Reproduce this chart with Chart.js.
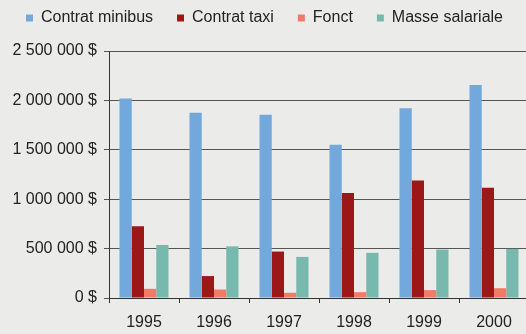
<!DOCTYPE html>
<html>
<head>
<meta charset="utf-8">
<script src="https://cdn.jsdelivr.net/npm/chart.js@4/dist/chart.umd.min.js"></script>
<style>
  html, body { margin: 0; padding: 0; background: #ebebe9; overflow: hidden; }
  #wrap { width: 540px; height: 334px; }
</style>
</head>
<body>
<div id="wrap"><canvas id="chart" width="540" height="334"></canvas></div>
<script>
// Coûts annuels par poste (dollars)
const years   = ['1995', '1996', '1997', '1998', '1999', '2000'];
const minibus = [2020000, 1875000, 1855000, 1550000, 1920000, 2155000];
const taxi    = [725000, 222000, 470000, 1063000, 1190000, 1115000];
const fonct   = [93000, 86000, 53000, 59000, 80000, 99000];
const masse   = [537000, 523000, 416000, 457000, 490000, 497000];
const yTicks  = [0, 500000, 1000000, 1500000, 2000000, 2500000];

const FONT = { family: 'Liberation Sans, Arial, sans-serif', size: 16 };

// espace comme séparateur de milliers
const fmt = v => String(v).replace(/\B(?=(\d{3})+(?!\d))/g, ' ') + ' $';

// hauteur fixe de la légende (le texte reste placé par Chart.js)
const legendHeight = {
  id: 'legendHeight',
  beforeLayout(chart) {
    const lg = chart.legend;
    if (!lg || lg._patched) return;
    const fit = lg.fit;
    lg.fit = function () { fit.call(this); this.height = 65; };
    lg._patched = true;
  }
};

new Chart(document.getElementById('chart'), {
  type: 'bar',
  data: {
    labels: years,
    datasets: [
      { label: 'Contrat minibus', data: minibus, backgroundColor: '#72a8dc' },
      { label: 'Contrat taxi',    data: taxi,    backgroundColor: '#9c1717' },
      { label: 'Fonct',           data: fonct,   backgroundColor: '#f27a68' },
      { label: 'Masse salariale', data: masse,   backgroundColor: '#78b9ae' },
    ],
  },
  options: {
    responsive: false,
    animation: false,
    layout: { padding: { top: -14, right: 11, bottom: 0, left: 0 } },
    datasets: { bar: { categoryPercentage: 0.7, barPercentage: 1.0 } },
    plugins: {
      legend: {
        position: 'top',
        labels: { color: '#222', font: FONT, boxWidth: 7, boxHeight: 7, padding: 24 },
      },
      tooltip: { enabled: false },
    },
    scales: {
      x: {
        grid: { display: true, drawOnChartArea: false, offset: true, tickLength: 5, color: '#333' },
        border: { color: '#333', width: 1 },
        ticks: { color: '#222', font: FONT, padding: 10, maxRotation: 0 },
        afterFit: s => { s.height = 36; },
      },
      y: {
        min: 0,
        max: 2500000,
        afterBuildTicks: s => { s.ticks = yTicks.map(v => ({ value: v })); },
        grid: { color: '#555', tickLength: 5 },
        border: { color: '#333', width: 1 },
        ticks: { color: '#222', font: FONT, padding: 7, callback: v => fmt(v) },
        afterFit: s => { s.width = 109; },
      },
    },
  },
  plugins: [legendHeight],
});
</script>
</body>
</html>
